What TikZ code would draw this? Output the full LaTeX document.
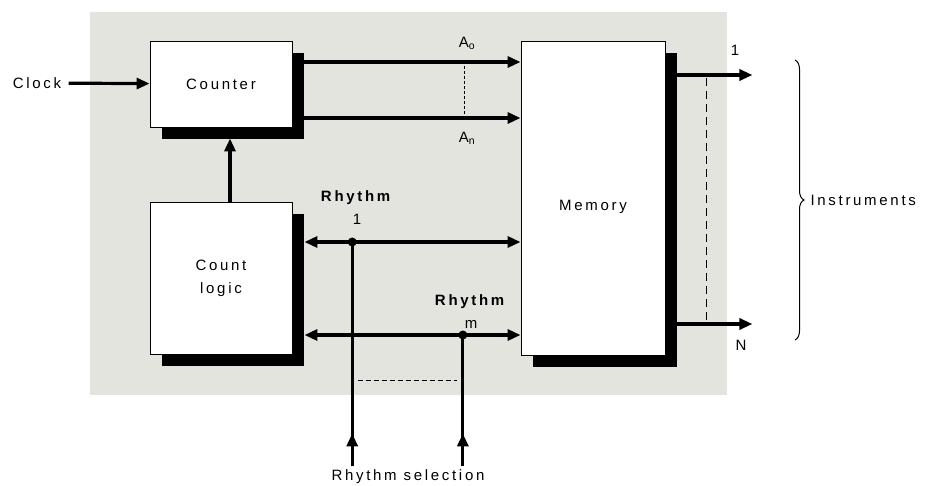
\documentclass[tikz,border=0pt]{standalone}
\usepackage{fontspec}
\setmainfont{Liberation Sans}[LetterSpace=18]
\usetikzlibrary{arrows.meta,positioning,calc,decorations.pathreplacing,shadows}
\definecolor{panel}{RGB}{228,228,223}

\begin{document}
\begin{tikzpicture}[x=1pt, y=-1pt, font=\fontsize{15}{23}\selectfont,
  blk/.style={draw=black, line width=0.9pt, fill=white, minimum width=142pt,
    drop shadow={shadow xshift=12pt, shadow yshift=-12pt, fill=black, opacity=1}},
  bus/.style={line width=3.2pt},
  tip/.style={-{Triangle[length=13pt,width=11pt]}},
  twotip/.style={{Triangle[length=13pt,width=11pt]}-{Triangle[length=13pt,width=11pt]}},
  dots/.style={line width=1.5pt, dash pattern=on 5pt off 3pt}]
\useasboundingbox (0,0) rectangle (929,486);
\fill[panel] (90,12) rectangle (727,395);

\node[blk, minimum height=86pt] (counter) at (221,84) {Counter};
\node[blk, minimum height=152pt, align=center] (logic) at (221,278) {Count\\logic};
\node[blk, minimum width=144pt, minimum height=314pt] (memory) at (593,198) {};
\node at ([yshift=-9pt]memory.center) {Memory};
\node (clock) at (37,83) {Clock};
\node (sel) at (408,477) {Rhythm selection};

\draw[bus, tip, shorten <=4pt] (clock) -- (counter);
\draw[bus, tip, shorten >=11pt] ([xshift=9pt]logic.north) -- ([xshift=9pt]counter.south);

% address lines
\draw[bus, tip] ([yshift=22pt]counter.east) -- coordinate[pos=0.755] (ao) ([yshift=22pt]counter.east -| memory.west);
\draw[bus, tip] ([yshift=-34pt]counter.east) -- coordinate[pos=0.755] (an) ([yshift=-34pt]counter.east -| memory.west);
\draw[line width=1.5pt, dash pattern=on 3pt off 2pt] ([yshift=-4pt]ao) -- ([yshift=4pt]an);
\node at (467,43) {A\textsubscript{o}};
\node at (467,138) {A\textsubscript{n}};

% rhythm lines
\draw[bus, twotip, shorten <=12pt] ([yshift=36pt]logic.east) -- coordinate[pos=0.262] (r1) ([yshift=36pt]logic.east -| memory.west);
\draw[bus, twotip, shorten <=12pt] ([yshift=-57pt]logic.east) -- coordinate[pos=0.747] (rm) ([yshift=-57pt]logic.east -| memory.west);
\foreach \r in {r1,rm}{
  \fill (\r) circle (4.5pt);
  \draw[bus] (\r) -- (\r |- sel.north);
  \draw[bus, tip] (\r |- sel.north) -- ++(0,-33);
}
\coordinate (dl) at ([yshift=-26pt]logic.south);
\draw[dots] ($(r1 |- dl)+(6,0)$) -- ($(rm |- dl)+(-6,0)$);
\node[align=center] at (357,208) {\textbf{Rhythm}\\1};
\node[align=center] at (471,312) {\textbf{Rhythm}\\m};

% outputs
\draw[bus, tip] ([yshift=123pt]memory.east) -- ++(87,0) coordinate[pos=0.47] (v1) coordinate (o1);
\draw[bus, tip] ([yshift=-126pt]memory.east) -- ++(87,0) coordinate[pos=0.47] (vn) coordinate (on);
\draw[line width=1.5pt, dash pattern=on 8pt off 5pt] ([yshift=-3pt]v1) -- ([yshift=3pt]vn);
\node at (735,50) {1};
\node at (741,345) {N};

\draw[decorate, decoration={brace, amplitude=9pt}, line width=1pt] (795,60) -- coordinate[pos=0.5] (bt) (795,340);
\node[right=12pt of bt] (instr) {Instruments};
\end{tikzpicture}
\end{document}
